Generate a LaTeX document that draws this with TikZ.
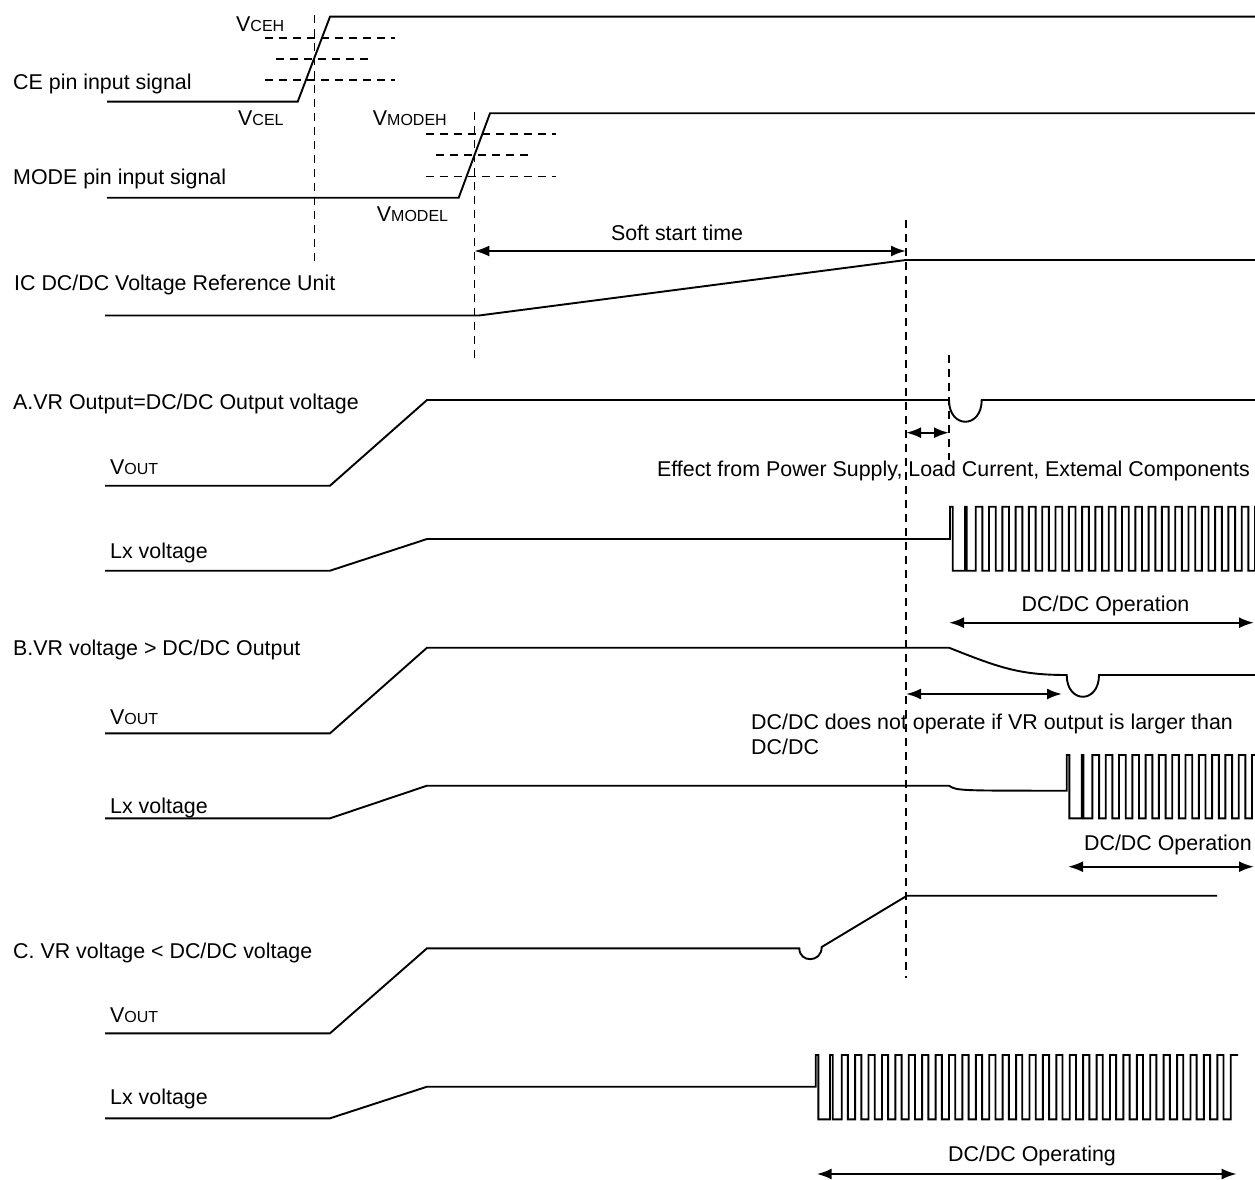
\documentclass[tikz,border=0pt]{standalone}
\usepackage{fontspec}
\setmainfont{Liberation Sans}
\usetikzlibrary{arrows.meta}
\newcommand\smc[1]{{\fontsize{16}{18}\selectfont #1}}
\begin{document}
\begin{tikzpicture}[x=1pt,y=-1pt,
  sig/.style={line width=1.9pt, line join=miter},
  guide/.style={line width=1.6pt, dash pattern=on 8pt off 6pt},
  dimarrow/.style={line width=2.2pt, {Latex[length=15pt,width=11pt]}-{Latex[length=15pt,width=11pt]}},
  lbl/.style={inner sep=0pt, anchor=base west, font=\fontsize{21.4}{25.7}\selectfont},
]
\useasboundingbox (0,0) rectangle (1255,1180);

% ---------- texts ----------
\node[lbl] (ceh) at (236,31.7) {V\smc{CEH}};
\node[lbl] (cel) at (238,125) {V\smc{CEL}};
\node[lbl] (modeh) at (372.7,125) {V\smc{MODEH}};
\node[lbl] (model) at (376.7,221.7) {V\smc{MODEL}};
\node[lbl] (ce) at (13,90) {CE pin input signal};
\node[lbl] (mode) at (13,184) {MODE pin input signal};
\node[lbl] (vru) at (14,290) {IC DC/DC Voltage Reference Unit};
\node[lbl, anchor=base] (soft) at (677,240) {Soft start time};

\node[lbl] (secA) at (13,409) {A.VR Output=DC/DC Output voltage};
\node[lbl] (voutA) at (110,474) {V\smc{OUT}};
\node[lbl] (lxA) at (110,558) {Lx voltage};
\node[lbl, anchor=base east] (effect) at (1250,476) {Effect from Power Supply, Load Current, Extemal Components};
\node[lbl, anchor=base] (opA) at (1105.5,611) {DC/DC Operation};

\node[lbl] (secB) at (13,655) {B.VR voltage > DC/DC Output};
\node[lbl] (voutB) at (110,724) {V\smc{OUT}};
\node[lbl] (lxB) at (110,813) {Lx voltage};
\node[lbl] (noop1) at (751,729) {DC/DC does not operate if VR output is larger than};
\node[lbl] (noop2) at (751,754) {DC/DC};
\node[lbl, anchor=base east] (opB) at (1252,850) {DC/DC Operation};

\node[lbl] (secC) at (13,958) {C. VR voltage < DC/DC voltage};
\node[lbl] (voutC) at (110,1022) {V\smc{OUT}};
\node[lbl] (lxC) at (110,1104) {Lx voltage};
\node[lbl, anchor=base] (opC) at (1032,1161.5) {DC/DC Operating};

% ---------- guide lines ----------
\draw[guide] (314.3,15) -- (314.3,262);
\draw[guide] (474.3,112) -- (474.3,358);
\draw[guide] (906,220) -- (906,978);
\draw[guide] (949,355) -- (949,460);

\draw[guide] (265,38.3) -- (395,38.3);
\draw[guide] (276,59.3) -- (368,59.3);
\draw[guide] (265,80.3) -- (395,80.3);
\draw[guide] (425.7,134) -- (556,134);
\draw[guide] (436,155) -- (528,155);
\draw[guide] (425.7,176.3) -- (556,176.3);

% ---------- signals ----------
\draw[sig] (107,101.7) -- (297.7,101.7) -- (330,16.7) -- (1260,16.7);
\draw[sig] (107,197.7) -- (458.7,197.7) -- (490,113.3) -- (1260,113.3);
\draw[sig] (105,315.5) -- (479,315.5) -- (906,260) -- (1260,260);

% A
\draw[sig] (105,485.7) -- (330,485.7) -- (427,400) -- (949,400)
  .. controls (949,429) and (981.7,429) .. (981.7,400) -- (1260,400);
\def\H{64}
\draw[sig] (105,570.7) -- (330,570.7) -- (427,539) -- (950,539) -- (950,506.7)
  -- ++(2.7,0) -- ++(0,\H) -- ++(12.3,0) -- ++(0,-\H) -- ++(1.7,0) -- ++(0,\H) -- ++(9,0)
  \foreach \i in {1,...,22}{ -- ++(0,-\H) -- ++(6.7,0) -- ++(0,\H) -- ++(6.6,0) };

% B
\draw[sig] (105,733.3) -- (330,733.3) -- (427,647.7) -- (949,647.7)
  .. controls (1000,668) and (1020,675) .. (1066.7,675)
  .. controls (1066.7,704) and (1099,704) .. (1099,675) -- (1260,675);
\def\HB{63.3}
\draw[sig] (105,818.3) -- (330,818.3) -- (427,785.7) -- (949,785.7)
  .. controls (957,790.7) .. (1066.7,790.7) -- (1066.7,755)
  -- ++(2.7,0) -- ++(0,\HB) -- ++(12.3,0) -- ++(0,-\HB) -- ++(1.7,0) -- ++(0,\HB) -- ++(9,0)
  \foreach \i in {1,...,14}{ -- ++(0,-\HB) -- ++(6.7,0) -- ++(0,\HB) -- ++(6.6,0) };

% C
\draw[sig] (105,1033.3) -- (330,1033.3) -- (427,948.3) -- (799.3,948.3)
  .. controls (799.3,963) and (821.7,963) .. (821.7,947) -- (907,895.7) -- (1217,895.7);
\def\HC{64.3}
\draw[sig] (105,1118.3) -- (330,1118.3) -- (427,1086.7) -- (815.7,1086.7) -- (815.7,1055)
  -- ++(2.6,0) -- ++(0,\HC) -- ++(11.7,0) -- ++(0,-\HC) -- ++(2.7,0) -- ++(0,\HC) -- ++(9,0)
  \foreach \i in {1,...,29}{ -- ++(0,-\HC) -- ++(6.2,0) -- ++(0,\HC) -- ++(7.214,0) }
  -- ++(0,-\HC) -- ++(7.3,0);

% ---------- dimension arrows ----------
\coordinate (s1) at (474.3,251);  \coordinate (s2) at (906,251);
\coordinate (a1) at (906,432.7);  \coordinate (a2) at (949,432.7);
\coordinate (b1) at (906,694);    \coordinate (b2) at (1062,694);
\coordinate (oa1) at (949,622.7); \coordinate (oa2) at (1254,622.7);
\coordinate (ob1) at (1068,866.7); \coordinate (ob2) at (1254,866.7);
\coordinate (oc1) at (816.7,1174); \coordinate (oc2) at (1236.7,1174);
\draw[dimarrow] (s1) -- (s2);
\draw[dimarrow] (a1) -- (a2);
\draw[dimarrow] (b1) -- (b2);
\draw[dimarrow] (oa1) -- (oa2);
\draw[dimarrow] (ob1) -- (ob2);
\draw[dimarrow] (oc1) -- (oc2);
\end{tikzpicture}
\end{document}
